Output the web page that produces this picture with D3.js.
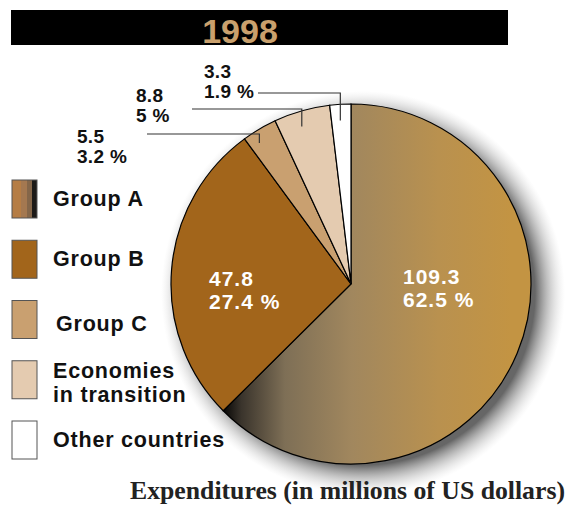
<!DOCTYPE html>
<html>
<head>
<meta charset="utf-8">
<script src="https://cdn.jsdelivr.net/npm/d3@7"></script>
<style>
  html, body { margin: 0; padding: 0; background: #fff; }
  svg { display: block; }
</style>
</head>
<body>
<svg id="chart" width="567" height="506"></svg>
<script>
// data
const categories = ['Group A', 'Group B', 'Group C', 'Economies in transition', 'Other countries'];
const values = [109.3, 47.8, 5.5, 8.8, 3.3];
const percents = ['62.5 %', '27.4 %', '3.2 %', '5 %', '1.9 %'];
const legendLines = [['Group A'], ['Group B'], ['Group C'], ['Economies', 'in transition'], ['Other countries']];
const year = '1998';
const caption = 'Expenditures (in millions of US dollars)';

const colors = ['url(#gradA)', '#a2651b', '#c9a070', '#e4cbb0', '#ffffff'];
const font = '"Liberation Sans", Arial, sans-serif';

const svg = d3.select('#chart');
const radius = 180;
const cx = 351, cy = 284;

const defs = svg.append('defs');

// Group A shading, dark at lower-left edge
const gradA = defs.append('linearGradient')
    .attr('id', 'gradA')
    .attr('gradientUnits', 'userSpaceOnUse')
    .attr('x1', -130).attr('y1', 0)
    .attr('x2', 160).attr('y2', 0);
[[0, '#000000'], [0.07, '#3a342c'], [0.22, '#7e6f56'], [0.45, '#a1875e'], [0.75, '#b9914f'], [1, '#c39443']]
    .forEach(s => gradA.append('stop').attr('offset', s[0]).attr('stop-color', s[1]));

// legend swatch for group A (striped)
const gradLeg = defs.append('linearGradient').attr('id', 'gradLeg');
[[0, '#b57d45'], [0.35, '#b57d45'], [0.35, '#a47850'], [0.6, '#a47850'], [0.6, '#846649'], [0.8, '#846649'], [0.8, '#1c1a18'], [1, '#1c1a18']]
    .forEach(s => gradLeg.append('stop').attr('offset', s[0]).attr('stop-color', s[1]));

// soft shadow as a radial fade
const shadowR = radius + 22;
const gradShadow = defs.append('radialGradient').attr('id', 'gradShadow');
[[0, '#555', 0.9], [(radius - 8) / shadowR, '#555', 0.9], [(radius + 4) / shadowR, '#888', 0.55], [1, '#ccc', 0]]
    .forEach(s => gradShadow.append('stop').attr('offset', s[0]).attr('stop-color', s[1]).attr('stop-opacity', s[2]));

// title bar
svg.append('rect')
    .attr('x', 11).attr('y', 10)
    .attr('width', 497).attr('height', 35)
    .attr('fill', '#000');
svg.append('text')
    .attr('x', 240).attr('y', 43)
    .attr('text-anchor', 'middle')
    .attr('font-family', font).attr('font-weight', 'bold')
    .attr('font-size', 34)
    .attr('fill', '#c9a06d')
    .text(year);

// pie
const pie = d3.pie().sort(null).value(d => d)(values);
const arc = d3.arc().innerRadius(0).outerRadius(radius);

const g = svg.append('g').attr('transform', `translate(${cx},${cy})`);

g.append('circle')
    .attr('cx', 12).attr('cy', 9)
    .attr('r', shadowR)
    .attr('fill', 'url(#gradShadow)');

g.selectAll('path.slice')
    .data(pie)
    .enter()
    .append('path')
    .attr('class', 'slice')
    .attr('d', arc)
    .attr('fill', (d, i) => colors[i])
    .attr('stroke', '#000')
    .attr('stroke-width', 1.2);

// inner labels for the two big slices
const inner = [
    { i: 0, x: 52, y: 0 },
    { i: 1, x: -142, y: 2 },
];
inner.forEach(p => {
    const t = g.append('text')
        .attr('font-family', font).attr('font-weight', 'bold')
        .attr('font-size', 21)
        .attr('letter-spacing', 1)
        .attr('fill', '#fff');
    t.append('tspan').attr('x', p.x).attr('y', p.y).text(values[p.i]);
    t.append('tspan').attr('x', p.x).attr('y', p.y + 23).text(percents[p.i]);
});

// callouts for the small slices
const callouts = [
    { i: 2, lineY: 134, x0: 147, textX: 77, textY: 143 },
    { i: 3, lineY: 109, x0: 192, textX: 136, textY: 102 },
    { i: 4, lineY: 93, x0: 258, textX: 204, textY: 78 },
];
const tickArc = d3.arc().innerRadius(radius * 0.91).outerRadius(radius * 0.91);
callouts.forEach(c => {
    const d = pie[c.i];
    const mid = (d.startAngle + d.endAngle) / 2;
    const px = cx + Math.sin(mid) * radius;
    const end = tickArc.centroid(d);
    svg.append('path')
        .attr('d', `M${c.x0},${c.lineY}H${px}V${cy + end[1]}`)
        .attr('fill', 'none')
        .attr('stroke', '#333')
        .attr('stroke-width', 1.2);
    const t = svg.append('text')
        .attr('font-family', font).attr('font-weight', 'bold')
        .attr('font-size', 19)
        .attr('letter-spacing', 0.3)
        .attr('fill', '#111');
    t.append('tspan').attr('x', c.textX).attr('y', c.textY).text(values[c.i]);
    t.append('tspan').attr('x', c.textX).attr('y', c.textY + 20).text(percents[c.i]);
});

// legend
const legend = svg.append('g');
const swatchFill = ['url(#gradLeg)', colors[1], colors[2], colors[3], colors[4]];
const labelX = [53, 53, 56, 53, 53];
const rowY = d3.scaleLinear().domain([0, 4]).range([180, 421]);
categories.forEach((c, i) => {
    const y = rowY(i);
    legend.append('rect')
        .attr('x', 12).attr('y', y)
        .attr('width', 25).attr('height', 38)
        .attr('fill', swatchFill[i])
        .attr('stroke', '#555')
        .attr('stroke-width', 1);
    const lines = legendLines[i];
    const t = legend.append('text')
        .attr('font-family', font).attr('font-weight', 'bold')
        .attr('font-size', 21.5)
        .attr('letter-spacing', 0.8)
        .attr('fill', '#111');
    const first = lines.length > 1 ? y + 17 : y + 26;
    lines.forEach((l, k) => {
        t.append('tspan').attr('x', labelX[i]).attr('y', first + k * 24 + (i === 2 ? 4 : 0)).text(l);
    });
});

// caption
svg.append('text')
    .attr('x', 130).attr('y', 499)
    .attr('font-family', '"Liberation Serif", "Times New Roman", serif')
    .attr('font-weight', 'bold')
    .attr('font-size', 25)
    .attr('textLength', 435)
    .attr('lengthAdjust', 'spacingAndGlyphs')
    .attr('fill', '#222')
    .text(caption);
</script>
</body>
</html>
